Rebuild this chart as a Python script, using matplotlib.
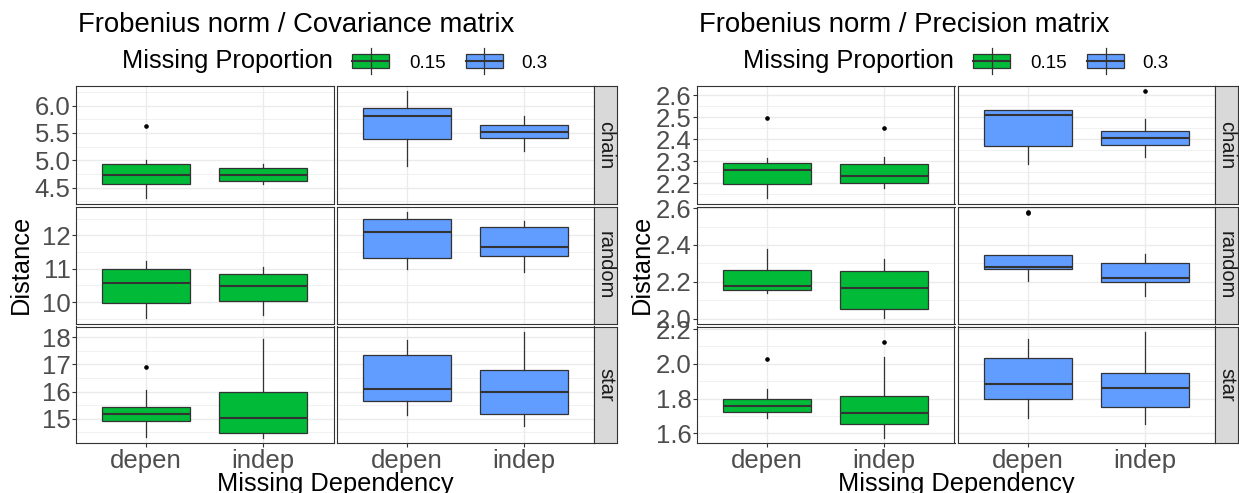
import matplotlib
matplotlib.use("Agg")
import matplotlib.pyplot as plt
from matplotlib.patches import Rectangle
from matplotlib.lines import Line2D
from matplotlib.ticker import MultipleLocator, FormatStrFormatter

plt.rcParams['font.family'] = ['Liberation Sans', 'DejaVu Sans']

# categories
networks = ["chain", "random", "star"]
proportions = ["0.15", "0.3"]
dependencies = ["depen", "indep"]
prop_colors = ["#00BA38", "#619CFF"]
titles = ["Frobenius norm / Covariance matrix", "Frobenius norm / Precision matrix"]

# box stats, indexed [network][proportion][dependency]
cov_lo = [[[4.31, 4.56], [4.89, 5.18]],
          [[9.52, 9.62], [11.0, 10.9]],
          [[14.32, 14.30], [15.15, 14.72]]]
cov_q1 = [[[4.57, 4.63], [5.39, 5.41]],
          [[9.98, 10.04], [11.32, 11.38]],
          [[14.92, 14.48], [15.65, 15.18]]]
cov_med = [[[4.74, 4.73], [5.81, 5.51]],
           [[10.58, 10.47], [12.10, 11.66]],
           [[15.16, 15.03], [16.10, 15.98]]]
cov_q3 = [[[4.93, 4.86], [5.96, 5.64]],
          [[10.98, 10.84], [12.49, 12.26]],
          [[15.42, 15.97], [17.33, 16.78]]]
cov_hi = [[[5.01, 4.94], [6.26, 5.81]],
          [[11.23, 11.05], [12.70, 12.44]],
          [[16.04, 17.93], [17.89, 18.20]]]
cov_out = [[[[5.62], []], [[], []]],
           [[[], []], [[], []]],
           [[[16.89], []], [[], []]]]

prec_lo = [[[2.133, 2.178], [2.287, 2.319]],
           [[2.138, 2.003], [2.207, 2.122]],
           [[1.689, 1.575], [1.687, 1.651]]]
prec_q1 = [[[2.197, 2.203], [2.370, 2.374]],
           [[2.154, 2.053], [2.269, 2.200]],
           [[1.724, 1.655], [1.799, 1.753]]]
prec_med = [[[2.263, 2.232], [2.512, 2.405]],
            [[2.175, 2.167], [2.279, 2.219]],
            [[1.760, 1.719], [1.881, 1.862]]]
prec_q3 = [[[2.291, 2.286], [2.533, 2.440]],
           [[2.263, 2.258], [2.347, 2.303]],
           [[1.796, 1.816], [2.032, 1.946]]]
prec_hi = [[[2.315, 2.319], [2.533, 2.492]],
           [[2.377, 2.322], [2.347, 2.351]],
           [[1.856, 2.040], [2.144, 2.184]]]
prec_out = [[[[2.496], [2.453]], [[], [2.618]]],
            [[[], []], [[2.574, 2.580], []]],
            [[[2.029], [2.124]], [[], []]]]

# y tick step and format per row
cov_steps = [0.5, 1, 1]
cov_fmt = ["%.1f", "%d", "%d"]
prec_steps = [0.1, 0.2, 0.2]
prec_fmt = ["%.1f", "%.1f", "%.1f"]

W, H = 1239, 493
fig = plt.figure(figsize=(W / 100, H / 100), dpi=100)

def box(px0, py0, px1, py1):
    return [px0 / W, 1 - py1 / H, (px1 - px0) / W, (py1 - py0) / H]

dark = "#333333"
grid_c = "#EBEBEB"
border_w = 0.8

panels = [
    (0, cov_lo, cov_q1, cov_med, cov_q3, cov_hi, cov_out, cov_steps, cov_fmt),
    (621, prec_lo, prec_q1, prec_med, prec_q3, prec_hi, prec_out, prec_steps, prec_fmt),
]
col_x = [(76, 333.5), (336.5, 594)]
row_y = [(86, 203.5), (206.5, 323.5), (326.5, 443)]
strip_x = (594, 617)

for k, (off, lo, q1, med, q3, hi, out, steps, fmts) in enumerate(panels):
    for r in range(3):
        vals = []
        for p in range(2):
            for d in range(2):
                vals += [lo[r][p][d], hi[r][p][d]] + out[r][p][d]
        ymin, ymax = min(vals), max(vals)
        pad = 0.05 * (ymax - ymin)
        for p in range(2):
            x0, x1 = col_x[p]
            ax = fig.add_axes(box(x0 + off, row_y[r][0], x1 + off, row_y[r][1]))
            stats = []
            for d in range(2):
                stats.append(dict(med=med[r][p][d], q1=q1[r][p][d], q3=q3[r][p][d],
                                  whislo=lo[r][p][d], whishi=hi[r][p][d],
                                  fliers=out[r][p][d]))
            ax.bxp(stats, positions=[1, 2], widths=0.75, patch_artist=True,
                   showcaps=False,
                   boxprops=dict(facecolor=prop_colors[p], edgecolor=dark, linewidth=0.9),
                   medianprops=dict(color=dark, linewidth=1.5),
                   whiskerprops=dict(color=dark, linewidth=0.9),
                   flierprops=dict(marker='o', markersize=2.3, markerfacecolor='black',
                                   markeredgecolor='black'),
                   zorder=3)
            ax.set_xlim(0.4, 2.6)
            ax.set_ylim(ymin - pad, ymax + pad)
            ax.yaxis.set_major_locator(MultipleLocator(steps[r]))
            ax.yaxis.set_minor_locator(MultipleLocator(steps[r] / 2))
            ax.yaxis.set_major_formatter(FormatStrFormatter(fmts[r]))
            ax.grid(True, which='major', color=grid_c, linewidth=1.0, zorder=0)
            ax.grid(True, which='minor', axis='y', color=grid_c, linewidth=0.5, zorder=0)
            ax.set_axisbelow(True)
            for s in ax.spines.values():
                s.set_color(dark)
                s.set_linewidth(border_w)
            ax.tick_params(axis='both', which='major', colors=dark, length=3, width=0.8,
                           labelsize=18.5, labelcolor="#4D4D4D", pad=1)
            ax.tick_params(axis='y', which='minor', length=0)
            ax.set_xticks([1, 2])
            if r == 2:
                ax.set_xticklabels(dependencies)
            else:
                ax.set_xticklabels([])
                ax.tick_params(axis='x', length=0)
            if p == 1:
                ax.tick_params(axis='y', which='major', length=0, labelleft=False)
        sax = fig.add_axes(box(strip_x[0] + off, row_y[r][0], strip_x[1] + off, row_y[r][1]))
        sax.set_facecolor("#D9D9D9")
        sax.set_xticks([])
        sax.set_yticks([])
        for s in sax.spines.values():
            s.set_color(dark)
            s.set_linewidth(border_w)
        sax.text(0.5, 0.5, networks[r], rotation=-90, ha='center', va='center',
                 fontsize=14.5, color="#1A1A1A", transform=sax.transAxes)

    # titles and labels
    fig.text((78 + off) / W, 1 - 32 / H, titles[k], fontsize=19.8, ha='left',
             va='baseline', color='black')
    fig.text((122 + off) / W, 1 - 68 / H, "Missing Proportion", fontsize=18.3,
             ha='left', va='baseline', color='black')
    fig.text((21 + off) / W, 1 - 264 / H, "Distance", rotation=90, fontsize=18.3,
             ha='center', va='center', color='black')
    fig.text((335 + off) / W, 1 - 491 / H, "Missing Dependency", fontsize=18.3,
             ha='center', va='baseline', color='black')

    # legend keys
    key_x = [352, 466]
    lab_x = [409, 521]
    for p in range(2):
        kx = key_x[p] + off
        fig.add_artist(Line2D([(kx + 18.5) / W] * 2, [1 - 48 / H, 1 - 74 / H],
                              color=dark, linewidth=0.9, transform=fig.transFigure))
        fig.add_artist(Rectangle((kx / W, 1 - 68 / H), 37 / W, 14 / H,
                                 facecolor=prop_colors[p], edgecolor=dark,
                                 linewidth=0.9, transform=fig.transFigure))
        fig.add_artist(Line2D([kx / W, (kx + 37) / W], [1 - 61 / H] * 2,
                              color=dark, linewidth=1.5, transform=fig.transFigure))
        fig.text((lab_x[p] + off) / W, 1 - 68 / H, proportions[p], fontsize=13.5,
                 ha='left', va='baseline', color='black')

fig.savefig("out.png", dpi=100, facecolor='white')
